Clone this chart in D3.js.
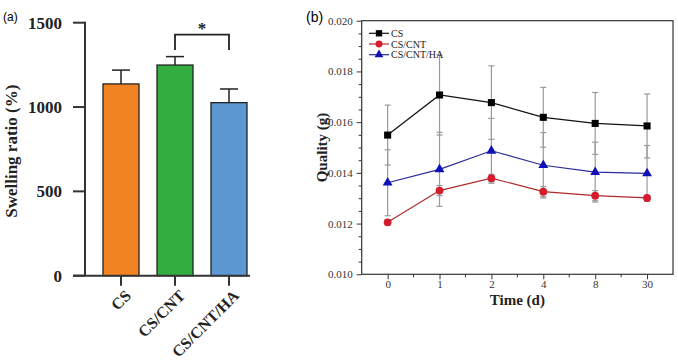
<!DOCTYPE html>
<html>
<head>
<meta charset="utf-8">
<script src="https://cdn.jsdelivr.net/npm/d3@7"></script>
<style>
  body { margin: 0; background: #fff; }
  svg { display: block; }
</style>
</head>
<body>
<svg id="chart"></svg>
<script>
// panel (a) swelling ratio
const swellCats = ["CS", "CS/CNT", "CS/CNT/HA"];
const swellMean = [1137, 1249, 1026];
const swellErr = [82, 50, 81];
const swellTicks = [0, 500, 1000, 1500];

// panel (b) quality over time
const days = ["0", "1", "2", "4", "8", "30"];
const seriesNames = ["CS", "CS/CNT", "CS/CNT/HA"];
const csMean = [0.01549, 0.01707, 0.01677, 0.01619, 0.01595, 0.01585];
const csErr = [0.00118, 0.00158, 0.00145, 0.00118, 0.00122, 0.00126];
const cntMean = [0.01205, 0.01330, 0.01379, 0.01326, 0.01310, 0.01301];
const cntErr = [0.0001, 0.0002, 0.00015, 0.0002, 0.0002, 0.0001];
const haMean = [0.01361, 0.01414, 0.01487, 0.01430, 0.01403, 0.01398];
const haErr = [0.0013, 0.00146, 0.00128, 0.00129, 0.00118, 0.0011];
const qualityTicks = [0.010, 0.012, 0.014, 0.016, 0.018, 0.020];

const width = 678, height = 360;
const serif = "'Liberation Serif', 'Times New Roman', serif";
const sans = "'Liberation Sans', Arial, sans-serif";

const svg = d3.select("#chart")
    .attr("width", width)
    .attr("height", height)
    .attr("viewBox", [0, 0, width, height]);

// ---------- (a) ----------
const barColors = ["#f28322", "#33ae3e", "#5d97d2"];
const axL = 85, axBottom = 275.7, axTop = 22.7;
const ya = d3.scaleLinear().domain([0, 1500]).range([axBottom, axTop]);
const xa = d3.scalePoint().domain(swellCats).range([121, 229]);
const barW = 36;

const gA = svg.append("g");
gA.append("text")
    .attr("x", 3).attr("y", 21)
    .attr("font-family", sans).attr("font-size", 12)
    .text("(a)");

// y axis
gA.append("line")
    .attr("x1", axL).attr("x2", axL)
    .attr("y1", axTop - 1).attr("y2", axBottom)
    .attr("stroke", "#333").attr("stroke-width", 2);
gA.append("g").selectAll("line")
    .data(swellTicks)
    .join("line")
    .attr("x1", axL - 12).attr("x2", axL)
    .attr("y1", d => ya(d)).attr("y2", d => ya(d))
    .attr("stroke", "#333").attr("stroke-width", 2);
gA.append("g").selectAll("text")
    .data(swellTicks)
    .join("text")
    .attr("x", 62).attr("y", d => ya(d))
    .attr("dy", "0.35em")
    .attr("text-anchor", "end")
    .attr("font-family", serif).attr("font-weight", "bold").attr("font-size", 17)
    .attr("fill", "#222")
    .text(d => d);
gA.append("text")
    .attr("transform", `translate(17,${(axTop + axBottom) / 2 + 2}) rotate(-90)`)
    .attr("text-anchor", "middle")
    .attr("font-family", serif).attr("font-weight", "bold").attr("font-size", 17)
    .attr("fill", "#222")
    .text("Swelling ratio (%)");

// bars
gA.append("g").selectAll("rect")
    .data(swellCats)
    .join("rect")
    .attr("x", d => xa(d) - barW / 2)
    .attr("y", (d, i) => ya(swellMean[i]))
    .attr("width", barW)
    .attr("height", (d, i) => ya(0) - ya(swellMean[i]))
    .attr("fill", (d, i) => barColors[i])
    .attr("stroke", "#222").attr("stroke-width", 1.3);
// error bars (upper only)
const errA = gA.append("g").attr("stroke", "#222").attr("stroke-width", 1.5);
swellCats.forEach((c, i) => {
    errA.append("line")
        .attr("x1", xa(c)).attr("x2", xa(c))
        .attr("y1", ya(swellMean[i])).attr("y2", ya(swellMean[i] + swellErr[i]));
    errA.append("line")
        .attr("x1", xa(c) - 9).attr("x2", xa(c) + 9)
        .attr("y1", ya(swellMean[i] + swellErr[i])).attr("y2", ya(swellMean[i] + swellErr[i]));
});

// x axis
gA.append("line")
    .attr("x1", axL - 12).attr("x2", 250)
    .attr("y1", axBottom).attr("y2", axBottom)
    .attr("stroke", "#333").attr("stroke-width", 2);
gA.append("g").selectAll("line")
    .data(swellCats)
    .join("line")
    .attr("x1", d => xa(d)).attr("x2", d => xa(d))
    .attr("y1", axBottom).attr("y2", axBottom + 10)
    .attr("stroke", "#333").attr("stroke-width", 2);
gA.append("g").selectAll("text")
    .data(swellCats)
    .join("text")
    .attr("transform", d => `translate(${xa(d) + 11},${axBottom + 21}) rotate(-45)`)
    .attr("text-anchor", "end")
    .attr("font-family", serif).attr("font-weight", "bold").attr("font-size", 16)
    .attr("fill", "#222")
    .text(d => d);

// significance bracket
const bx1 = xa(swellCats[1]), bx2 = xa(swellCats[2]);
gA.append("path")
    .attr("d", `M${bx1},50V34.7H${bx2}V50`)
    .attr("fill", "none").attr("stroke", "#222").attr("stroke-width", 1.8);
gA.append("text")
    .attr("x", (bx1 + bx2) / 2).attr("y", 34)
    .attr("text-anchor", "middle")
    .attr("font-family", serif).attr("font-weight", "bold").attr("font-size", 17)
    .attr("fill", "#222")
    .text("*");

// ---------- (b) ----------
const fL = 361.7, fR = 673, fT = 20.7, fB = 274.3;
const yb = d3.scaleLinear().domain([0.010, 0.020]).range([fB, fT]);
const xb = d3.scalePoint().domain(days).range([fL, fR]).padding(0.5);

const gB = svg.append("g");
gB.append("text")
    .attr("x", 306).attr("y", 22)
    .attr("font-family", sans).attr("font-size", 14)
    .text("(b)");

gB.append("rect")
    .attr("x", fL).attr("y", fT)
    .attr("width", fR - fL).attr("height", fB - fT)
    .attr("fill", "none").attr("stroke", "#333").attr("stroke-width", 1.2);

// y axis
gB.append("g")
    .attr("transform", `translate(${fL},0)`)
    .call(d3.axisLeft(yb).tickValues(qualityTicks).tickFormat(d3.format(".3f")).tickSize(5).tickPadding(4))
    .call(g => g.select(".domain").remove())
    .call(g => g.selectAll("text").attr("font-family", serif).attr("font-size", 11).attr("fill", "#333"))
    .call(g => g.selectAll("line").attr("stroke", "#333"));
gB.append("g")
    .attr("transform", `translate(${fL},0)`)
    .call(d3.axisLeft(yb).tickValues(d3.range(0.0105, 0.0200, 0.0005).filter((v, i) => i % 4 !== 3)).tickFormat("").tickSize(3))
    .call(g => g.select(".domain").remove())
    .call(g => g.selectAll("line").attr("stroke", "#333"));

// x axis
gB.append("g")
    .attr("transform", `translate(0,${fB})`)
    .call(d3.axisBottom(xb).tickSize(5).tickPadding(1))
    .call(g => g.select(".domain").remove())
    .call(g => g.selectAll("text").attr("font-family", serif).attr("font-size", 11).attr("fill", "#333"))
    .call(g => g.selectAll("line").attr("stroke", "#333"));
const mids = days.slice(1).map((d, i) => (xb(days[i]) + xb(d)) / 2);
gB.append("g").selectAll("line")
    .data(mids)
    .join("line")
    .attr("x1", d => d).attr("x2", d => d)
    .attr("y1", fB).attr("y2", fB + 3)
    .attr("stroke", "#333");

gB.append("text")
    .attr("x", (fL + fR) / 2).attr("y", 305)
    .attr("text-anchor", "middle")
    .attr("font-family", serif).attr("font-weight", "bold").attr("font-size", 15)
    .attr("fill", "#222")
    .text("Time (d)");
gB.append("text")
    .attr("transform", `translate(327,${(fT + fB) / 2}) rotate(-90)`)
    .attr("text-anchor", "middle")
    .attr("font-family", serif).attr("font-weight", "bold").attr("font-size", 15)
    .attr("fill", "#222")
    .text("Quality (g)");

const series = [
    { name: seriesNames[0], mean: csMean, err: csErr, line: "#111", fill: "#000", shape: d3.symbolSquare, size: 50 },
    { name: seriesNames[1], mean: cntMean, err: cntErr, line: "#b02a2a", fill: "#d41c2c", shape: d3.symbolCircle, size: 48 },
    { name: seriesNames[2], mean: haMean, err: haErr, line: "#2a2a9c", fill: "#1010b8", shape: d3.symbolTriangle, size: 42 }
];

// error bars
const errB = gB.append("g").attr("stroke", "#9a9a9a").attr("stroke-width", 1.2);
series.forEach(s => {
    days.forEach((d, i) => {
        const x = xb(d), lo = yb(s.mean[i] - s.err[i]), hi = yb(s.mean[i] + s.err[i]);
        errB.append("line").attr("x1", x).attr("x2", x).attr("y1", lo).attr("y2", hi);
        errB.append("line").attr("x1", x - 3).attr("x2", x + 3).attr("y1", lo).attr("y2", lo);
        errB.append("line").attr("x1", x - 3).attr("x2", x + 3).attr("y1", hi).attr("y2", hi);
    });
});

const line = d3.line().x(d => xb(d[0])).y(d => yb(d[1]));
series.forEach(s => {
    const pts = days.map((d, i) => [d, s.mean[i]]);
    gB.append("path")
        .attr("d", line(pts))
        .attr("fill", "none").attr("stroke", s.line).attr("stroke-width", 1.2);
    gB.append("g").selectAll("path")
        .data(pts)
        .join("path")
        .attr("transform", d => `translate(${xb(d[0])},${yb(d[1])})`)
        .attr("d", d3.symbol(s.shape, s.size))
        .attr("fill", s.fill);
});

// legend
const leg = gB.append("g");
series.forEach((s, i) => {
    const ly = 33.3 + i * 10.7;
    leg.append("line")
        .attr("x1", 369).attr("x2", 389).attr("y1", ly).attr("y2", ly)
        .attr("stroke", s.line).attr("stroke-width", 1.2);
    leg.append("path")
        .attr("transform", `translate(379,${ly})`)
        .attr("d", d3.symbol(s.shape, s.size * 0.8))
        .attr("fill", s.fill);
    leg.append("text")
        .attr("x", 391).attr("y", ly)
        .attr("dy", "0.35em")
        .attr("font-family", serif).attr("font-size", 10)
        .attr("fill", "#222")
        .text(s.name);
});
</script>
</body>
</html>
